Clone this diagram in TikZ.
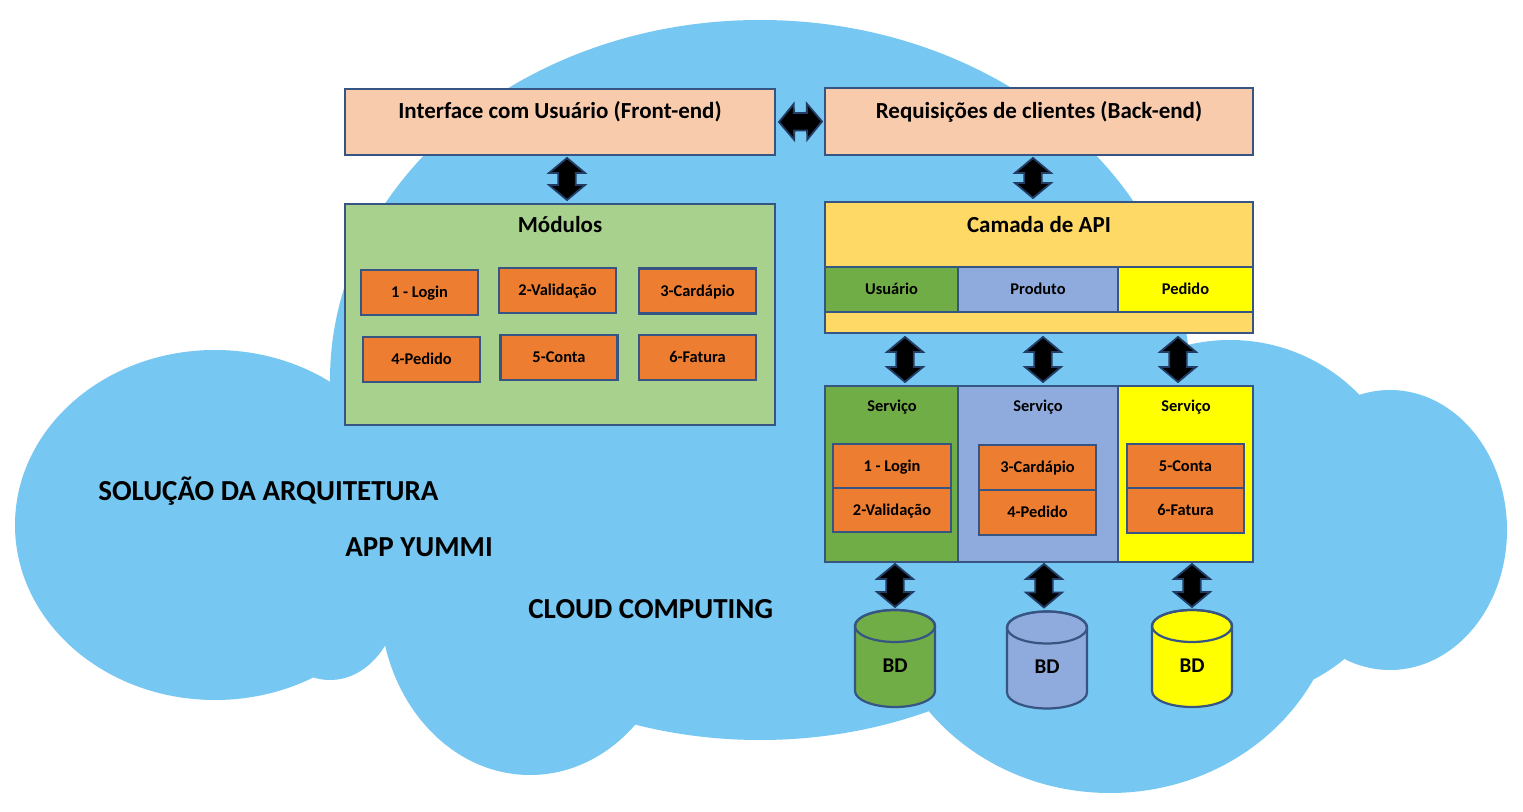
\documentclass[tikz,border=0pt]{standalone}
\usepackage{fontspec}
\setmainfont{Carlito}
\usetikzlibrary{calc}

\definecolor{cloudblue}{RGB}{118,199,241}
\definecolor{edge}{RGB}{55,85,130}
\definecolor{arrowedge}{RGB}{35,60,100}
\definecolor{peach}{RGB}{248,203,173}
\definecolor{sage}{RGB}{169,209,142}
\definecolor{modorange}{RGB}{237,125,49}
\definecolor{apigold}{RGB}{255,217,102}
\definecolor{leaf}{RGB}{112,173,71}
\definecolor{steel}{RGB}{143,170,220}
\definecolor{lemon}{RGB}{255,255,0}

\begin{document}
\begin{tikzpicture}[x=0.5pt, y=-0.5pt,
  box/.style={draw=edge, line width=1.1pt, inner sep=0pt, outer sep=0pt},
  head/.style={font=\fontsize{11.5}{13}\selectfont\bfseries, inner sep=0pt},
  small/.style={font=\fontsize{8.2}{10}\selectfont\bfseries, inner sep=0pt},
  big/.style={font=\fontsize{14.5}{17}\selectfont\bfseries, inner sep=0pt},
  modbox/.style={box, fill=modorange, minimum width=58.5pt, minimum height=22.5pt,
    font=\fontsize{8.2}{10}\selectfont\bfseries, text height=5.3pt, text depth=0pt},
  subbox/.style={box, minimum height=22.5pt,
    font=\fontsize{8.2}{10}\selectfont\bfseries, text height=5.3pt, text depth=0pt},
  dbbox/.style={inner sep=0pt, outer sep=0pt, minimum width=40pt, minimum height=48.5pt},
  dbfont/.style={font=\fontsize{10.5}{12}\selectfont\bfseries, inner sep=0pt},
  biarrow/.style={fill=black, draw=arrowedge, line width=0.9pt, line join=miter,
    to path={
      -- ($(\tikztostart)!7.5pt!(\tikztotarget)!9pt!90:(\tikztotarget)$)
      -- ($(\tikztostart)!7.5pt!(\tikztotarget)!4.4pt!90:(\tikztotarget)$)
      -- ($(\tikztotarget)!7.5pt!(\tikztostart)!4.4pt!-90:(\tikztostart)$)
      -- ($(\tikztotarget)!7.5pt!(\tikztostart)!9pt!-90:(\tikztostart)$)
      -- (\tikztotarget)
      -- ($(\tikztotarget)!7.5pt!(\tikztostart)!9pt!90:(\tikztostart)$)
      -- ($(\tikztotarget)!7.5pt!(\tikztostart)!4.4pt!90:(\tikztostart)$)
      -- ($(\tikztostart)!7.5pt!(\tikztotarget)!4.4pt!-90:(\tikztotarget)$)
      -- ($(\tikztostart)!7.5pt!(\tikztotarget)!9pt!-90:(\tikztotarget)$)
      -- cycle}},
  pics/dbcyl/.style={code={
    \filldraw[fill=#1, draw=edge, line width=1.1pt]
      (-40,-32.5) -- (-40,32.5)
      arc[start angle=180, end angle=360, x radius=20pt, y radius=8pt]
      -- (40,-32.5)
      arc[start angle=0, end angle=180, x radius=20pt, y radius=8pt] -- cycle;
    \draw[edge, line width=1.1pt] (0,-32.5) ellipse[x radius=20pt, y radius=8pt];
  }}
]
% page
\fill[white] (0,0) rectangle (1523,812);
\useasboundingbox (0,0) rectangle (1523,812);

% cloud made of overlapping puffs
\fill[cloudblue]
  (760,380) ellipse[x radius=430, y radius=360]
  (215,525) ellipse[x radius=200, y radius=175]
  (330,590) ellipse[x radius=70, y radius=90]
  (530,600) ellipse[x radius=150, y radius=175]
  (1110,580) ellipse[x radius=230, y radius=213]
  (1390,530) ellipse[x radius=117, y radius=140]
  (1230,520) ellipse[x radius=180, y radius=180];

% front-end and back-end
\node[box, fill=peach, minimum width=215pt, minimum height=33pt] (fe) at (560,122) {};
\node[head, anchor=base] (fe-t) at (560,119) {Interface com Usuário (Front-end)};
\node[box, fill=peach, minimum width=214pt, minimum height=33.5pt] (be) at (1039,121.5) {};
\node[head, anchor=base] (be-t) at (1039,119) {Requisições de clientes (Back-end)};

% modules
\node[box, fill=sage, minimum width=215pt, minimum height=110.5pt] (mod) at (560,314.5) {};
\node[head, anchor=base] (mod-t) at (560,233) {Módulos};
\node[modbox] (m1) at (419.5,292.5) {1 - Login};
\node[modbox] (m2) at (557.5,290.5) {2-Validação};
\node[modbox] (m3) at (697.5,291) {3-Cardápio};
\node[modbox] (m4) at (421.5,359.5) {4-Pedido};
\node[modbox] (m5) at (559,357.5) {5-Conta};
\node[modbox] (m6) at (697.5,357.5) {6-Fatura};

% API layer
\node[box, fill=apigold, minimum width=214pt, minimum height=65.5pt] (api) at (1039,267.5) {};
\node[head, anchor=base] (api-t) at (1039,233) {Camada de API};
\node[subbox, fill=leaf, minimum width=66.5pt] (a1) at (891.5,289.5) {Usuário};
\node[subbox, fill=steel, minimum width=80pt] (a2) at (1038,289.5) {Produto};
\node[subbox, fill=lemon, minimum width=67.5pt] (a3) at (1185.5,289.5) {Pedido};

% services
\node[box, fill=leaf, minimum width=66.5pt, minimum height=88pt] (sv1) at (891.5,474) {};
\node[box, fill=steel, minimum width=80pt, minimum height=88pt] (sv2) at (1038,474) {};
\node[box, fill=lemon, minimum width=67.5pt, minimum height=88pt] (sv3) at (1185.5,474) {};
\node[small, anchor=base] (sv1-t) at (892,412) {Serviço};
\node[small, anchor=base] (sv2-t) at (1038,412) {Serviço};
\node[small, anchor=base] (sv3-t) at (1186,412) {Serviço};
\node[modbox, minimum width=59pt, minimum height=22pt] (s1a) at (892,466) {1 - Login};
\node[modbox, minimum width=59pt, minimum height=22pt] (s1b) at (892,510) {2-Validação};
\node[modbox, minimum width=58.5pt] (s2a) at (1037.5,467.5) {3-Cardápio};
\node[modbox, minimum width=58.5pt] (s2b) at (1037.5,512.5) {4-Pedido};
\node[modbox, minimum width=58.5pt, minimum height=22pt] (s3a) at (1185.5,466) {5-Conta};
\node[modbox, minimum width=58.5pt, minimum height=22.5pt] (s3b) at (1185.5,510.5) {6-Fatura};

% databases
\pic at (895,658.5) {dbcyl=leaf};
\pic at (1047,660) {dbcyl=steel};
\pic at (1192,658.5) {dbcyl=lemon};
\node[dbbox] (db1) at (895,658.5) {};
\node[dbbox] (db2) at (1047,660) {};
\node[dbbox] (db3) at (1192,658.5) {};
\node[dbfont] (db1-t) at ($(db1.center)+(0,7)$) {BD};
\node[dbfont] (db2-t) at ($(db2.center)+(0,7)$) {BD};
\node[dbfont] (db3-t) at ($(db3.center)+(0,7)$) {BD};

% captions
\node[big, anchor=base west] (cap1) at (98,501) {SOLUÇÃO DA ARQUITETURA};
\node[big, anchor=base west] (cap2) at (345,557) {APP YUMMI};
\node[big, anchor=base west] (cap3) at (528,619) {CLOUD COMPUTING};

% two-headed block arrows
\coordinate (h1) at ($(fe.east)+(4,0)$);
\coordinate (h2) at ($(be.west)+(-3,0)$);
\draw[biarrow] (h1) to (h2);

\coordinate (v1s) at ($(fe.south)+(7,3)$);
\coordinate (v1e) at ($(mod.north)+(7,-4)$);
\draw[biarrow] (v1s) to (v1e);
\coordinate (v2s) at ($(be.south)+(-6,3)$);
\coordinate (v2e) at ($(api.north)+(-6,-4)$);
\draw[biarrow] (v2s) to (v2e);

\coordinate (v3s) at ($(api.south -| sv1.north)+(13.5,4)$);
\coordinate (v3e) at ($(sv1.north)+(13.5,-4)$);
\draw[biarrow] (v3s) to (v3e);
\coordinate (v4s) at ($(api.south -| sv2.north)+(5,4)$);
\coordinate (v4e) at ($(sv2.north)+(5,-4)$);
\draw[biarrow] (v4s) to (v4e);
\coordinate (v5s) at ($(api.south -| sv3.north)+(-7.5,4)$);
\coordinate (v5e) at ($(sv3.north)+(-7.5,-4)$);
\draw[biarrow] (v5s) to (v5e);

\coordinate (v6s) at ($(sv1.south -| db1.north)+(0,2)$);
\coordinate (v6e) at ($(db1.north)+(0,-3)$);
\draw[biarrow] (v6s) to (v6e);
\coordinate (v7s) at ($(sv2.south -| db2.north)+(-3,2)$);
\coordinate (v7e) at ($(db2.north)+(-3,-4)$);
\draw[biarrow] (v7s) to (v7e);
\coordinate (v8s) at ($(sv3.south -| db3.north)+(0,2)$);
\coordinate (v8e) at ($(db3.north)+(0,-3)$);
\draw[biarrow] (v8s) to (v8e);
\end{tikzpicture}
\end{document}
